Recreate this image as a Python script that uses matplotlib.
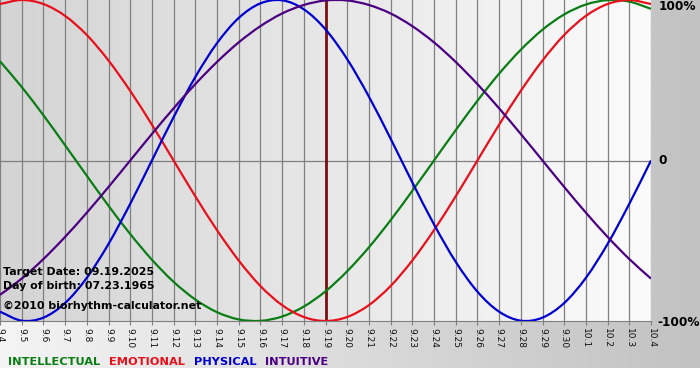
import numpy as np
import matplotlib
matplotlib.use("Agg")
import matplotlib.pyplot as plt
from matplotlib.colors import LinearSegmentedColormap
from matplotlib.path import Path
from matplotlib.patches import PathPatch

# days shown: 9.4 .. 10.4
dates = ["9.%d" % d for d in range(4, 31)] + ["10.%d" % d for d in range(1, 5)]
target_index = 15  # 9.19

intellectual = [0.618, 0.458, 0.282, 0.095, -0.095, -0.282, -0.458, -0.618, -0.756, -0.866,
                -0.945, -0.990, -0.999, -0.972, -0.910, -0.815, -0.690, -0.541, -0.372, -0.189,
                0.000, 0.189, 0.372, 0.541, 0.690, 0.815, 0.910, 0.972, 0.999, 0.990, 0.945]
emotional = [0.975, 1.000, 0.975, 0.901, 0.782, 0.623, 0.434, 0.223, 0.000, -0.223,
             -0.434, -0.623, -0.782, -0.901, -0.975, -1.000, -0.975, -0.901, -0.782, -0.623,
             -0.434, -0.223, 0.000, 0.223, 0.434, 0.623, 0.782, 0.901, 0.975, 1.000, 0.975]
physical = [-0.942, -0.998, -0.979, -0.888, -0.731, -0.520, -0.270, 0.000, 0.270, 0.520,
            0.731, 0.888, 0.979, 0.998, 0.942, 0.817, 0.631, 0.398, 0.136, -0.136,
            -0.398, -0.631, -0.817, -0.942, -0.998, -0.979, -0.888, -0.731, -0.520, -0.270, 0.000]
intuitive = [-0.837, -0.736, -0.614, -0.476, -0.325, -0.165, 0.000, 0.165, 0.325, 0.476,
             0.614, 0.736, 0.837, 0.916, 0.969, 0.997, 0.997, 0.969, 0.916, 0.837,
             0.736, 0.614, 0.476, 0.325, 0.165, 0.000, -0.165, -0.325, -0.476, -0.614, -0.736]

series = [("INTELLECTUAL", intellectual, "#0a7d14"),
          ("EMOTIONAL", emotional, "#e8101c"),
          ("PHYSICAL", physical, "#0000d0"),
          ("INTUITIVE", intuitive, "#4b0082")]


def smooth_path(xs, ys):
    # catmull-rom through the points, drawn as cubic bezier segments
    n = len(xs)
    verts = [(xs[0], ys[0])]
    codes = [Path.MOVETO]
    for i in range(n - 1):
        x0, y0 = (xs[i - 1], ys[i - 1]) if i > 0 else (2 * xs[0] - xs[1], 2 * ys[0] - ys[1])
        x3, y3 = (xs[i + 2], ys[i + 2]) if i + 2 < n else (2 * xs[-1] - xs[-2], 2 * ys[-1] - ys[-2])
        x1, y1 = xs[i], ys[i]
        x2, y2 = xs[i + 1], ys[i + 1]
        c1 = (x1 + (x2 - x0) / 6, y1 + (y2 - y0) / 6)
        c2 = (x2 - (x3 - x1) / 6, y2 - (y3 - y1) / 6)
        verts += [c1, c2, (x2, y2)]
        codes += [Path.CURVE4] * 3
    return Path(verts, codes)


W, H = 700, 380
fig = plt.figure(figsize=(W / 100, H / 100), dpi=100)
fig.patch.set_facecolor("white")

# background gradient behind everything
bg = fig.add_axes([0, 12 / H, 1, 1 - 12 / H])
bg.axis("off")
grad = np.linspace(0, 1, 256).reshape(1, -1)
bg.imshow(grad, aspect="auto", extent=[0, 1, 0, 1],
          cmap=LinearSegmentedColormap.from_list("bgc", ["#f4f4f4", "#c2c2c2"]))
bg.set_xlim(0, 1)
bg.set_ylim(0, 1)

ax = fig.add_axes([0, (H - 321) / H, 651 / W, 321 / H])
x = np.arange(len(dates))
ax.set_xlim(0, len(dates) - 1)
ax.set_ylim(-1.0, 1.0)

ax.imshow(grad, aspect="auto", extent=[0, len(dates) - 1, -1, 1], zorder=0,
          cmap=LinearSegmentedColormap.from_list("plc", ["#d4d4d4", "#fbfbfb"]))

for xi in x:
    ax.axvline(xi, color="#808080", lw=0.9, zorder=1)
ax.axhline(0, color="#808080", lw=0.9, zorder=1)
ax.axvline(target_index, color="#7a1010", lw=2, zorder=3)

for name, vals, col in series:
    ax.add_patch(PathPatch(smooth_path(x, vals), facecolor="none", edgecolor=col,
                           lw=1.6, zorder=4))

for side in ["top", "left", "right"]:
    ax.spines[side].set_visible(False)
ax.spines["bottom"].set_color("#808080")
ax.set_yticks([])
ax.set_xticks(x)
ax.set_xticklabels(dates, rotation=270, fontsize=6.5, color="#111111")
ax.tick_params(axis="x", length=3, color="#808080", pad=2)

# right labels
fig.text(659 / W, 1 - 7 / H, "100%", fontsize=8.7, fontweight="bold", va="center", ha="left")
fig.text(658 / W, 1 - 161 / H, "0", fontsize=8.7, fontweight="bold", va="center", ha="left")
fig.text(657 / W, 1 - 322 / H, "-100%", fontsize=8.7, fontweight="bold", va="center", ha="left")

# info text
fig.text(3 / W, 1 - 272 / H, "Target Date: 09.19.2025", fontsize=7.9, fontweight="bold", va="center")
fig.text(3 / W, 1 - 286 / H, "Day of birth: 07.23.1965", fontsize=7.9, fontweight="bold", va="center")
fig.text(3 / W, 1 - 306 / H, "\u00a92010 biorhythm-calculator.net", fontsize=7.9, fontweight="bold", va="center")

# legend labels
xpos = 8
for name, vals, col in series:
    t = fig.text(xpos / W, 1 - 362 / H, name, fontsize=8.2, fontweight="bold", color=col, va="center")
    fig.canvas.draw()
    bb = t.get_window_extent()
    xpos = bb.x1 + 9

fig.savefig("out.png", dpi=100)
